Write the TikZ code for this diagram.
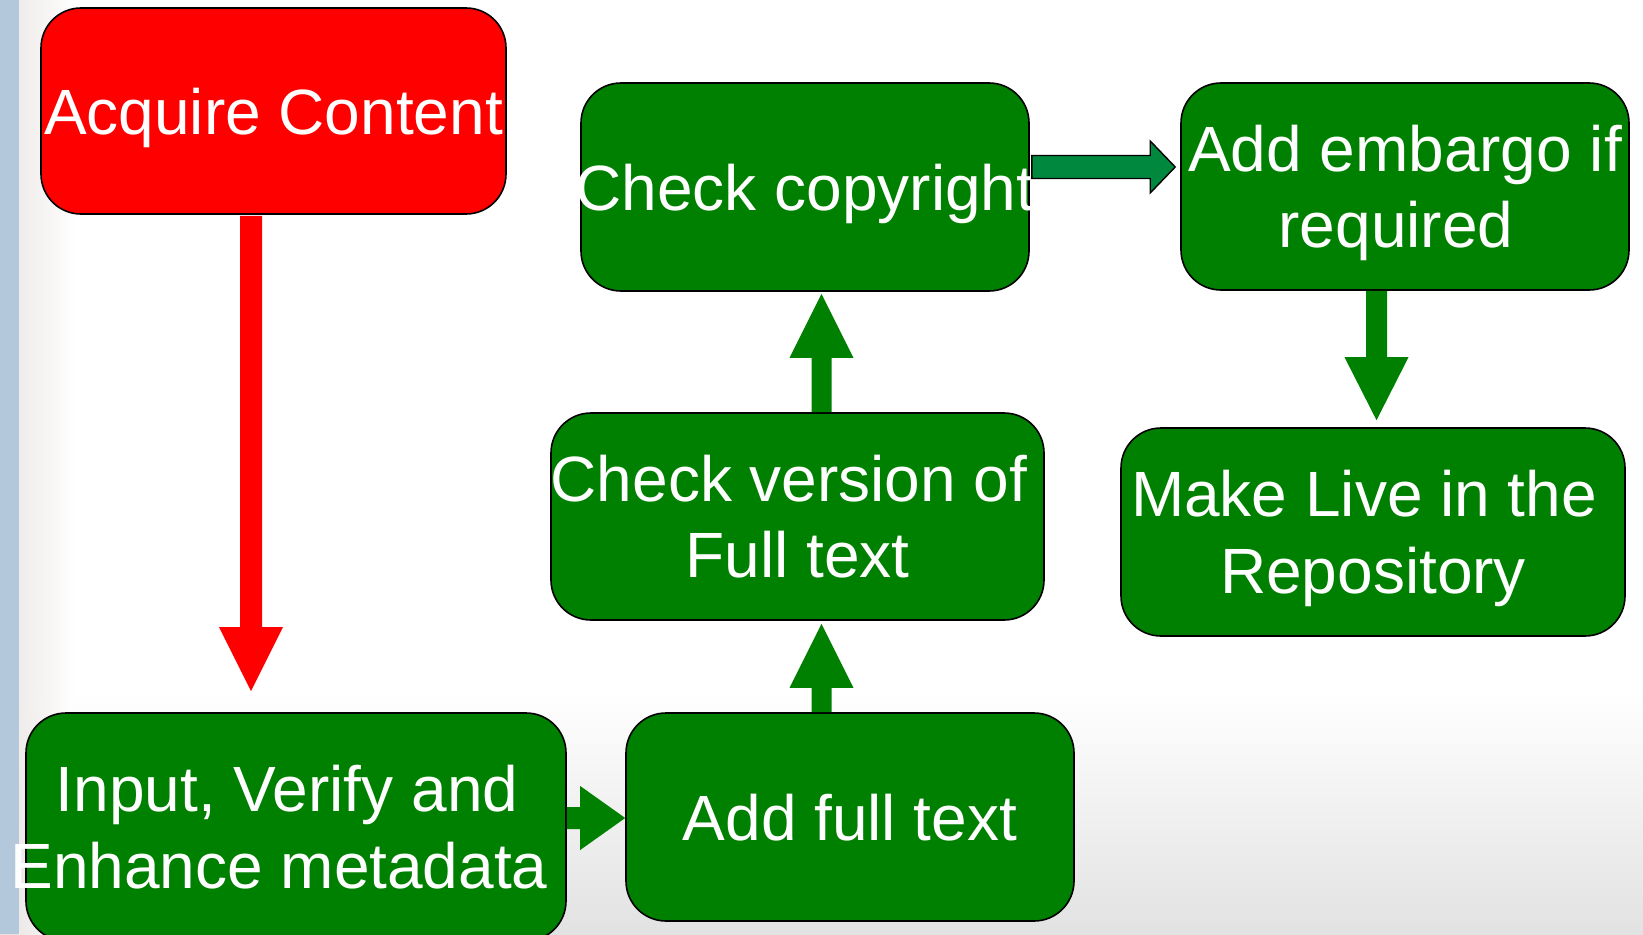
\documentclass[tikz,border=0pt]{standalone}
\usepackage{fontspec}
\setmainfont{Liberation Sans}
\usetikzlibrary{calc}
\definecolor{boxgreen}{RGB}{0,128,0}
\definecolor{boxred}{RGB}{255,0,0}
\definecolor{tealarrow}{RGB}{0,137,62}
\definecolor{stripblue}{RGB}{180,200,220}
\definecolor{fadetone}{RGB}{238,234,232}
\definecolor{floorgray}{RGB}{226,226,226}
% a centred line of text, moved sideways by half of #1 (zero width)
\newcommand\shl[2]{\makebox[0pt]{\hspace*{#1}#2}}
\tikzset{
  stepbox/.style={draw=black, line width=1.6pt, rounded corners=40pt, inner sep=0pt,
    text=white, align=center, text depth=0pt, font=\fontsize{64}{76.5}\selectfont},
  greenbox/.style={stepbox, fill=boxgreen},
  redbox/.style={stepbox, fill=boxred},
}
\begin{document}
\begin{tikzpicture}[x=1pt,y=-1pt]
\useasboundingbox (0,0) rectangle (1643,934);
% background
\fill[white] (0,0) rectangle (1643,934);
\shade[top color=white, bottom color=floorgray] (0,690) rectangle (1643,934);
\shade[left color=fadetone, right color=white, opacity=0.9] (18,0) rectangle (75,934);
\fill[stripblue] (0,0) rectangle (19,934);

% boxes
\node[redbox, minimum width=465pt, minimum height=206pt] (acq) at (273.5,111) {\shl{0pt}{Acquire Content}};
\node[greenbox, minimum width=540pt, minimum height=228pt] (inp) at (296,827) {\shl{-18pt}{Input, Verify and}\\\shl{-34pt}{Enhance metadata}};
\node[greenbox, minimum width=448pt, minimum height=208pt] (addf) at (850,817) {\shl{0pt}{Add full text}};
\node[greenbox, minimum width=493pt, minimum height=207pt] (chv) at (797.5,516.5) {\shl{-17pt}{Check version of}\\\shl{0pt}{Full text}};
\node[greenbox, minimum width=448pt, minimum height=208pt] (chc) at (805,187) {\shl{0pt}{Check copyright}};
\node[greenbox, minimum width=448pt, minimum height=207pt] (emb) at (1405,186.5) {\shl{0pt}{Add embargo if}\\\shl{-18pt}{required}};
\node[greenbox, minimum width=504pt, minimum height=208pt] (live) at (1373,532) {\shl{-18pt}{Make Live in the}\\\shl{0pt}{Repository}};

% reference lines for arrows
\coordinate (rx) at (251,0);
\coordinate (ux) at (821.5,0);
\coordinate (dx) at (1376.5,0);
\coordinate (hy1) at (0,818);
\coordinate (hy2) at (0,167);

% red arrow: acquire -> input
\fill[boxred] ($(rx|-acq.south)+(-11,1)$) -- ($(rx|-inp.north)+(-11,-85)$) -- ($(rx|-inp.north)+(-32,-85)$)
  -- ($(rx|-inp.north)+(0,-21)$) -- ($(rx|-inp.north)+(32,-85)$) -- ($(rx|-inp.north)+(11,-85)$)
  -- ($(rx|-acq.south)+(11,1)$) -- cycle;

% input -> add full text
\fill[boxgreen] ($(inp.east|-hy1)+(0,-11)$) -- ($(addf.west|-hy1)+(-45,-11)$) -- ($(addf.west|-hy1)+(-45,-32)$)
  -- ($(addf.west|-hy1)+(0,0)$) -- ($(addf.west|-hy1)+(-45,32)$) -- ($(addf.west|-hy1)+(-45,11)$)
  -- ($(inp.east|-hy1)+(0,11)$) -- cycle;

% add full text -> check version
\fill[boxgreen] ($(ux|-addf.north)+(-10,0)$) -- ($(ux|-chv.south)+(-10,67)$) -- ($(ux|-chv.south)+(-32,67)$)
  -- ($(ux|-chv.south)+(0,3)$) -- ($(ux|-chv.south)+(32,67)$) -- ($(ux|-chv.south)+(10,67)$)
  -- ($(ux|-addf.north)+(10,0)$) -- cycle;

% check version -> check copyright
\fill[boxgreen] ($(ux|-chv.north)+(-10,0)$) -- ($(ux|-chc.south)+(-10,66)$) -- ($(ux|-chc.south)+(-32,66)$)
  -- ($(ux|-chc.south)+(0,2)$) -- ($(ux|-chc.south)+(32,66)$) -- ($(ux|-chc.south)+(10,66)$)
  -- ($(ux|-chv.north)+(10,0)$) -- cycle;

% check copyright -> add embargo
\filldraw[fill=tealarrow, draw=black, line width=1.4pt, line join=miter]
  ($(chc.east|-hy2)+(2,-11.5)$) -- ($(emb.west|-hy2)+(-30,-11.5)$) -- ($(emb.west|-hy2)+(-30,-26)$)
  -- ($(emb.west|-hy2)+(-5,0)$) -- ($(emb.west|-hy2)+(-30,26)$) -- ($(emb.west|-hy2)+(-30,11.5)$)
  -- ($(chc.east|-hy2)+(2,11.5)$) -- cycle;

% add embargo -> make live
\fill[boxgreen] ($(dx|-emb.south)+(-10.5,0)$) -- ($(dx|-live.north)+(-10.5,-70)$) -- ($(dx|-live.north)+(-32,-70)$)
  -- ($(dx|-live.north)+(0,-7)$) -- ($(dx|-live.north)+(32,-70)$) -- ($(dx|-live.north)+(10.5,-70)$)
  -- ($(dx|-emb.south)+(10.5,0)$) -- cycle;
\end{tikzpicture}
\end{document}
